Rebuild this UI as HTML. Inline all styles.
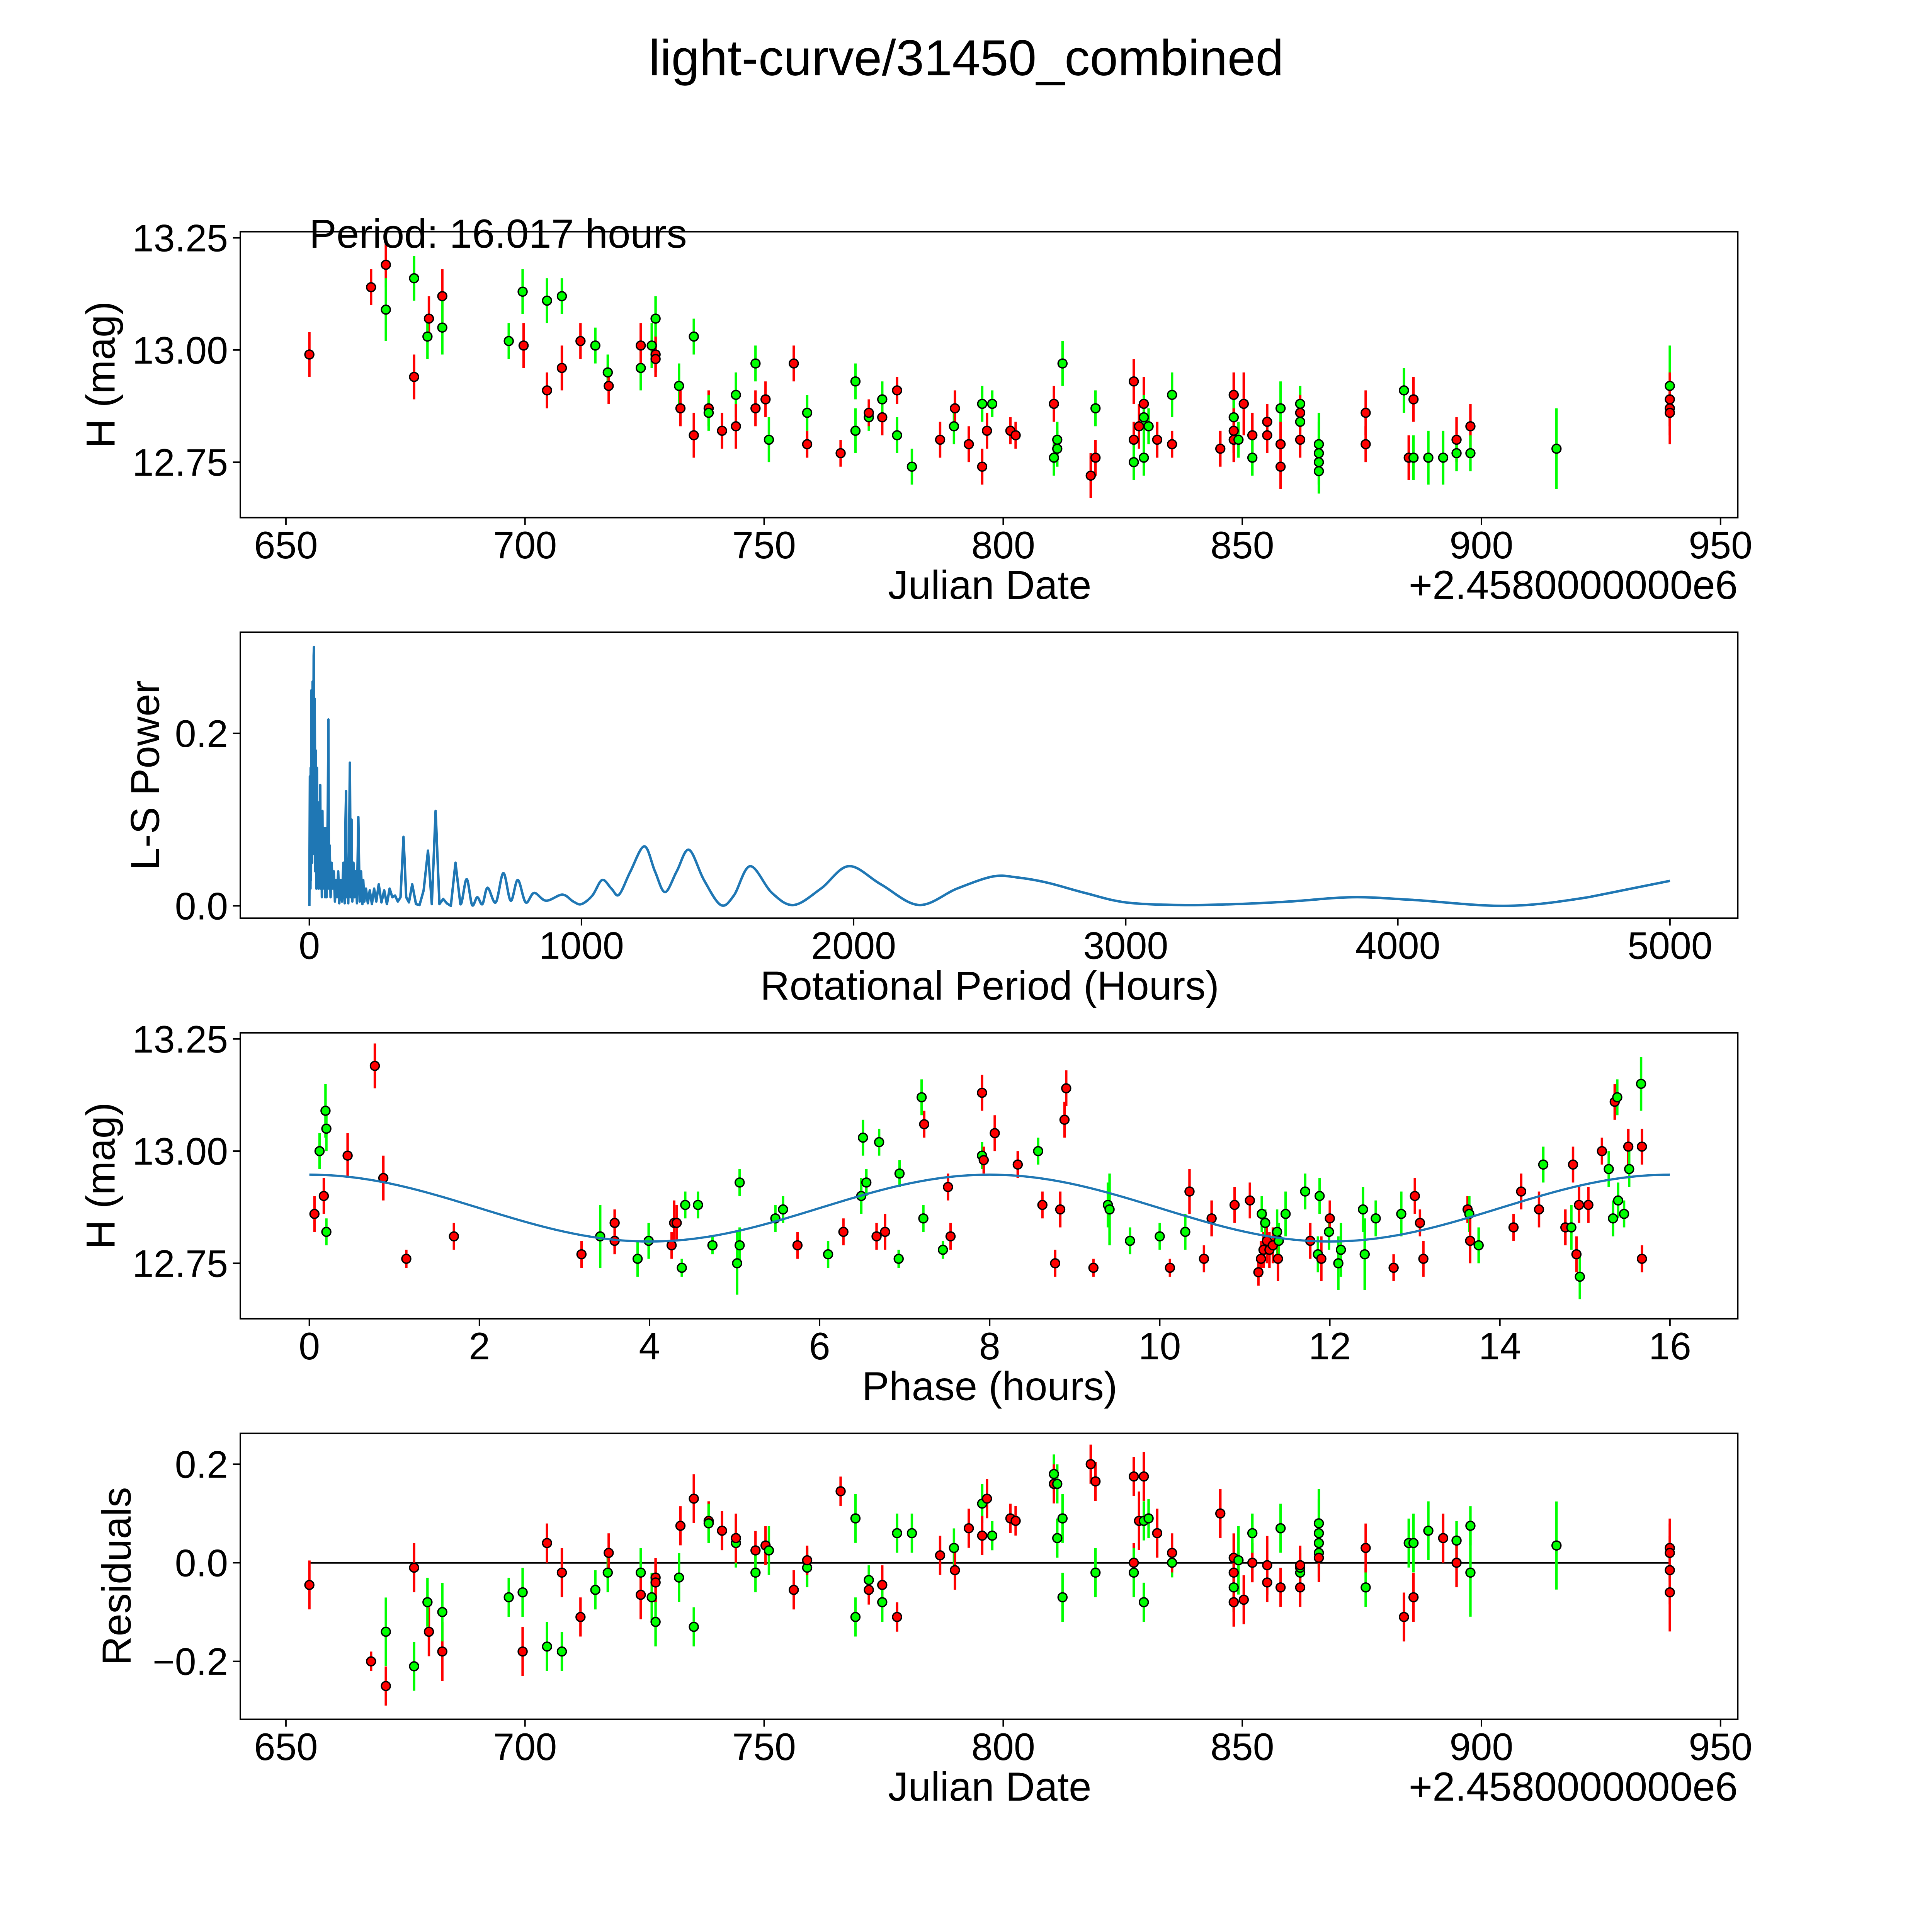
<!DOCTYPE html>
<html><head><meta charset="utf-8"><style>
html,body{margin:0;padding:0;background:#fff;overflow:hidden;width:5400px;height:5400px;}
svg{display:block;}
text{font-family:"Liberation Sans",sans-serif;fill:#000;}
</style></head><body>
<svg id="fig" xmlns="http://www.w3.org/2000/svg" width="5400" height="5400" viewBox="0 0 1693 1693">
<rect x="0" y="0" width="1693" height="1693" fill="#fff"/>
<text x="784" y="61" font-size="41" text-anchor="middle">light-curve/31450_combined</text>
<g id="p1"></g>
<g id="p2"></g>
<g id="p3"></g>
<g id="p4"></g>
</svg>
<script>
// ---- Panel 1: light curve ----
const jd1 = [654.9,667.8,670.9,670.9,676.8,676.8,679.9,679.6,682.7,682.7,696.6,699.5,699.7,704.6,704.6,707.7,707.7,711.6,714.7,717.3,717.5,724.2,724.2,726.5,727.3,727.3,727.3,732.2,732.5,735.3,735.3,738.4,738.4,741.2,744.1,744.1,748.2,748.2,750.3,751.0,756.2,759.0,759.0,766.0,769.1,769.1,771.9,771.9,774.7,774.7,777.8,777.8,780.9,786.8,789.7,789.9,792.8,795.6,795.6,796.6,797.7,801.5,802.6,810.6,810.6,811.3,811.3,812.4,818.3,819.3,819.3,827.3,827.3,827.3,828.4,829.4,829.4,829.4,830.4,832.2,835.3,835.3,845.4,848.2,848.2,848.2,848.2,849.2,850.3,852.1,852.1,855.2,855.2,858.0,858.0,858.0,862.1,862.1,862.1,862.1,866.0,866.0,866.0,866.0,875.8,875.8,883.8,884.8,885.8,885.8,888.9,892.0,894.8,894.8,897.7,897.7,915.7,939.4,939.4,939.4,939.4];
const mag1 = [12.99,13.14,13.19,13.09,12.94,13.16,13.07,13.03,13.12,13.05,13.02,13.13,13.01,12.91,13.11,12.96,13.12,13.02,13.01,12.95,12.92,12.96,13.01,13.01,13.07,12.99,12.98,12.92,12.87,13.03,12.81,12.87,12.86,12.82,12.90,12.83,12.87,12.97,12.89,12.80,12.97,12.86,12.79,12.77,12.93,12.82,12.85,12.86,12.85,12.89,12.91,12.81,12.74,12.80,12.83,12.87,12.79,12.88,12.74,12.82,12.88,12.82,12.81,12.76,12.88,12.80,12.78,12.97,12.72,12.76,12.87,12.93,12.80,12.75,12.83,12.88,12.85,12.76,12.83,12.80,12.90,12.79,12.78,12.90,12.85,12.82,12.80,12.80,12.88,12.81,12.76,12.84,12.81,12.87,12.79,12.74,12.88,12.86,12.84,12.80,12.79,12.77,12.75,12.73,12.86,12.79,12.91,12.76,12.89,12.76,12.76,12.76,12.80,12.77,12.83,12.77,12.78,12.92,12.89,12.87,12.86];
const col1 = "rrrgrgrgrgggrrgrgrggrgrggrrgrgrrgrgrrgrgrgrrgggrrgrggrgrrgrrgrrgrgggrrgrrgrrgggrgrrrgrrgrrgrrgrrgrgrggggrrgrrgggrgrgggrr".split("");
const err1 = [0.05,0.04,0.05,0.07,0.05,0.05,0.05,0.05,0.06,0.06,0.04,0.05,0.05,0.04,0.05,0.05,0.04,0.04,0.04,0.04,0.04,0.05,0.05,0.05,0.05,0.04,0.04,0.05,0.04,0.04,0.05,0.04,0.04,0.04,0.05,0.05,0.04,0.04,0.04,0.05,0.04,0.04,0.03,0.03,0.04,0.05,0.03,0.03,0.04,0.04,0.03,0.04,0.04,0.04,0.04,0.04,0.04,0.04,0.04,0.04,0.03,0.03,0.03,0.04,0.04,0.04,0.04,0.05,0.05,0.04,0.04,0.05,0.04,0.04,0.05,0.06,0.05,0.04,0.04,0.04,0.05,0.03,0.04,0.05,0.05,0.05,0.05,0.04,0.07,0.05,0.04,0.04,0.04,0.06,0.05,0.05,0.04,0.04,0.04,0.04,0.07,0.07,0.05,0.05,0.05,0.04,0.05,0.05,0.05,0.05,0.06,0.06,0.05,0.04,0.05,0.04,0.09,0.09,0.06,0.06,0.07];

// ---- Panel 2: periodogram ----
const lsPeriod = [0,2,4,5,6,8,10,12,14,16,17,18,20,22,24,26,28,30,32,34,36,38,40,42,44,46,48,50,52,55,58,60,63,66,68,70,72,75,78,82,86,90,94,98,102,106,110,115,120,125,130,133,135,137,140,143,146,149,152,155,158,162,166,170,175,180,185,190,195,198,202,208,215,222,230,238,246,255,265,275,285,295,305,315,325,335,346,356,366,378,392,405,420,436,450,464,478,492,505,520,537,555,578,598,617,636,655,685,713,740,766,795,826,870,930,970,1000,1040,1076,1110,1138,1180,1231,1270,1307,1350,1395,1450,1512,1560,1620,1700,1780,1880,1982,2100,2240,2380,2511,2600,2710,2850,3000,3200,3400,3600,3833,4050,4400,4700,5000];
const lsPower = [0,0.15,0.02,0.16,0.03,0.25,0.05,0.26,0.10,0.29,0.30,0.06,0.24,0.04,0.18,0.02,0.16,0.05,0.12,0.02,0.10,0.03,0.14,0.02,0.08,0.01,0.11,0.02,0.07,0.09,0.01,0.09,0.01,0.06,0.12,0.216,0.02,0.07,0.01,0.05,0.02,0.04,0.005,0.03,0.01,0.04,0.003,0.03,0.005,0.05,0.003,0.10,0.133,0.01,0.05,0.003,0.07,0.166,0.01,0.10,0.005,0.05,0.01,0.04,0.003,0.103,0.005,0.04,0.002,0.03,0.005,0.02,0.003,0.018,0.002,0.02,0.005,0.025,0.004,0.018,0.002,0.02,0.01,0.012,0.005,0.01,0.08,0.01,0.004,0.025,0.002,0.001,0.018,0.064,0.002,0.11,0.002,0.008,0.003,0.0,0.05,0.002,0.031,0.001,0.01,0.002,0.021,0.004,0.038,0.006,0.03,0.004,0.015,0.006,0.013,0.005,0.002,0.012,0.03,0.02,0.013,0.04,0.069,0.04,0.016,0.04,0.065,0.03,0.001,0.012,0.046,0.015,0.001,0.02,0.046,0.025,0.001,0.02,0.034,0.033,0.027,0.015,0.004,0.001,0.002,0.005,0.01,0.007,0.0,0.01,0.029];

// ---- Panel 3: phased curve ----
const ph3 = [0.06,0.12,0.17,0.19,0.20,0.20,0.45,0.77,0.87,1.14,1.70,3.20,3.42,3.59,3.59,3.86,3.99,4.26,4.29,4.32,4.38,4.42,4.57,4.74,5.06,5.06,5.03,5.48,5.57,5.74,6.10,6.28,6.49,6.51,6.55,6.67,6.70,6.77,6.94,6.93,7.22,7.20,7.23,7.45,7.51,7.54,7.91,7.91,7.93,8.06,8.33,8.57,8.62,8.77,8.83,8.88,8.90,9.22,9.39,9.41,9.65,10.0,10.12,10.30,10.35,10.52,10.61,10.88,11.06,11.16,11.19,11.20,11.22,11.24,11.26,11.29,11.33,11.38,11.39,11.40,11.48,11.71,11.77,11.86,11.88,11.90,11.99,12.0,12.1,12.13,12.39,12.41,12.54,12.75,12.84,13.0,13.06,13.1,13.62,13.64,13.65,13.75,14.16,14.25,14.46,14.51,14.77,14.84,14.86,14.90,14.94,14.93,15.04,15.20,15.28,15.33,15.35,15.38,15.39,15.46,15.51,15.52,15.67,15.66,15.67];
const mag3 = [12.86,13.00,12.90,13.09,13.05,12.82,12.99,13.19,12.94,12.76,12.81,12.77,12.81,12.84,12.80,12.76,12.80,12.79,12.84,12.84,12.74,12.88,12.88,12.79,12.93,12.79,12.75,12.85,12.87,12.79,12.77,12.82,12.90,13.03,12.93,12.81,13.02,12.82,12.95,12.76,12.85,13.12,13.06,12.78,12.92,12.81,13.13,12.99,12.98,13.04,12.97,13.00,12.88,12.75,12.87,13.07,13.14,12.74,12.88,12.87,12.80,12.81,12.74,12.82,12.91,12.76,12.85,12.88,12.89,12.73,12.76,12.86,12.78,12.84,12.80,12.78,12.79,12.82,12.76,12.80,12.86,12.91,12.80,12.77,12.90,12.76,12.82,12.85,12.75,12.78,12.87,12.77,12.85,12.74,12.86,12.90,12.84,12.76,12.87,12.86,12.80,12.79,12.83,12.91,12.87,12.97,12.83,12.83,12.97,12.77,12.72,12.88,12.88,13.00,12.96,12.85,13.11,13.12,12.89,12.86,13.01,12.96,13.01,13.15,12.76];
const col3 = "rgrgggrrrrrrgrrggrrrgggggggggrgrgggrgrggggrgrrrgrrrgrrrrrrggggrgrrrrrrrgrgrrrgrgggrggrgrgggggrgrrrrgrgrrrgrgrrgrrrggrgggrgrgrrgg".split("");
const err3 = [0.04,0.04,0.04,0.06,0.05,0.03,0.05,0.05,0.05,0.02,0.03,0.03,0.07,0.03,0.03,0.04,0.04,0.03,0.05,0.04,0.02,0.03,0.03,0.02,0.03,0.04,0.07,0.03,0.03,0.03,0.03,0.03,0.04,0.04,0.03,0.03,0.03,0.04,0.03,0.02,0.03,0.04,0.03,0.02,0.03,0.03,0.04,0.03,0.03,0.04,0.03,0.03,0.03,0.03,0.04,0.04,0.04,0.02,0.05,0.08,0.03,0.03,0.02,0.04,0.05,0.03,0.04,0.04,0.04,0.03,0.04,0.04,0.04,0.03,0.05,0.04,0.04,0.05,0.05,0.04,0.05,0.04,0.04,0.04,0.04,0.05,0.04,0.04,0.06,0.06,0.05,0.08,0.04,0.03,0.05,0.04,0.03,0.04,0.03,0.04,0.05,0.04,0.03,0.04,0.04,0.04,0.04,0.05,0.04,0.04,0.05,0.04,0.04,0.03,0.04,0.04,0.04,0.04,0.04,0.03,0.04,0.04,0.04,0.06,0.03];
const fitMean = [12.873];
const fitAmp = [0.0745];
const fitHalfPeriod = [8.0];

// ---- Panel 4: residuals ----
const jd4 = [654.9,667.8,670.9,670.9,676.8,676.8,679.9,679.6,682.7,682.7,696.6,699.5,699.5,704.6,704.6,707.7,707.7,711.6,714.7,717.3,717.5,724.2,724.2,726.5,727.3,727.3,727.3,732.2,732.5,735.3,735.3,738.4,738.4,741.2,744.1,744.1,748.2,748.2,750.3,751.0,756.2,759.0,759.0,766.0,769.1,769.1,771.9,771.9,774.7,774.7,777.8,777.8,780.9,786.8,789.7,789.9,792.8,795.6,795.6,796.6,797.7,801.5,802.6,810.6,810.6,811.3,811.3,812.4,812.4,818.3,819.3,819.3,827.3,827.3,827.3,828.4,829.4,829.4,829.4,830.4,832.2,835.3,835.3,845.4,848.2,848.2,848.2,848.2,849.2,850.3,852.1,852.1,855.2,855.2,858.0,858.0,858.0,862.1,862.1,862.1,862.1,866.0,866.0,866.0,866.0,866.0,875.8,875.8,883.8,884.8,885.8,885.8,888.9,892.0,894.8,894.8,897.7,897.7,915.7,939.4,939.4,939.4,939.4];
const res4 = [-0.045,-0.20,-0.25,-0.14,-0.01,-0.21,-0.14,-0.08,-0.18,-0.10,-0.07,-0.06,-0.18,0.04,-0.17,-0.02,-0.18,-0.11,-0.055,-0.02,0.02,-0.02,-0.065,-0.07,-0.12,-0.03,-0.04,-0.03,0.075,-0.13,0.13,0.085,0.08,0.065,0.04,0.05,0.025,-0.02,0.035,0.025,-0.055,-0.01,0.005,0.145,-0.11,0.09,-0.035,-0.055,-0.045,-0.08,-0.11,0.06,0.06,0.015,0.03,-0.015,0.07,0.12,0.055,0.13,0.055,0.09,0.085,0.18,0.16,0.05,0.16,0.09,-0.07,0.20,0.165,-0.02,0.175,0.0,-0.02,0.085,0.175,-0.08,0.085,0.09,0.06,0.0,0.02,0.10,0.01,-0.05,-0.08,-0.02,0.005,-0.075,0.0,0.06,-0.04,-0.005,0.07,0.07,-0.05,-0.05,-0.02,-0.01,-0.005,0.08,0.06,0.04,0.02,0.01,-0.05,0.03,-0.11,0.04,-0.07,0.04,0.065,0.05,0.045,0.0,0.075,-0.02,0.035,0.03,0.02,-0.015,-0.06];
const col4 = "rrrgrgrgrgggrrgrgrggrgrggrrgrgrrgrgrrgrgrgrrgggrrgrggrgrrgrrgrrgrggggrrgrrgrrgggrgrrrgrrgrrgrrggrrggrggggrgrrgrggrgrgggrr".split("");
const err4 = [0.05,0.02,0.04,0.07,0.05,0.05,0.05,0.05,0.06,0.06,0.04,0.05,0.05,0.04,0.05,0.05,0.04,0.04,0.04,0.04,0.04,0.05,0.05,0.05,0.05,0.04,0.04,0.05,0.04,0.04,0.05,0.04,0.04,0.04,0.05,0.05,0.04,0.04,0.04,0.05,0.04,0.04,0.03,0.03,0.04,0.05,0.03,0.03,0.04,0.04,0.03,0.04,0.04,0.04,0.04,0.04,0.04,0.04,0.04,0.04,0.03,0.03,0.03,0.04,0.04,0.04,0.04,0.05,0.05,0.04,0.04,0.05,0.04,0.04,0.05,0.06,0.05,0.04,0.04,0.04,0.05,0.03,0.04,0.05,0.05,0.05,0.05,0.04,0.07,0.05,0.04,0.04,0.04,0.06,0.05,0.05,0.04,0.04,0.04,0.04,0.04,0.07,0.07,0.05,0.05,0.05,0.04,0.05,0.05,0.05,0.05,0.06,0.06,0.05,0.04,0.05,0.04,0.09,0.09,0.06,0.06,0.07,0.08];

const jdTicks = [650,700,750,800,850,900,950];
const lsXTicks = [0,1000,2000,3000,4000,5000];
const lsYTicks = [0.0,0.2];
const phXTicks = [0,2,4,6,8,10,12,14,16];
const magTicks = [12.75,13.00,13.25];
const resTicks = [-0.2,0.0,0.2];

const NS = "http://www.w3.org/2000/svg";
function mk(parent, tag, attrs){ const e=document.createElementNS(NS,tag); for(const k in attrs) e.setAttribute(k,attrs[k]); parent.appendChild(e); return e; }
function lin(d0,d1,r0,r1){ return v=> r0+(v-d0)*(r1-r0)/(d1-d0); }
const L=195, R=1410, W=R-L, H=232;
const tops=[188,513,838,1163];
const xJD = lin(650,950,232,1396);
const xLS = lin(0,5000,251,1355);
const xPH = lin(0,16,251,1355);
const yMag = t=> lin(13.0,12.75,t+96,t+187);
const yLS = lin(0,0.2,735,595);
const yRes = lin(0,0.2,1268,1188);
const COL={r:"#ff0000",g:"#00ff00"};
const TICKFS=31, LABFS=33;

function frame(g,top){
  const r=mk(g,"rect",{x:L,y:top,width:W,height:H,fill:"none",stroke:"#000","stroke-width":1.2});
  
  
}
function xticks(g,top,ticks,xf,fmt){
  ticks.forEach(v=>{
    const x=xf(v);
    const l=mk(g,"line",{x1:x,x2:x,y1:top+H,y2:top+H+6,stroke:"#000","stroke-width":1.2});
    
    
    const t=mk(g,"text",{x:x,y:top+H+33,"font-size":TICKFS,"text-anchor":"middle"});
    
    
    t.textContent=fmt(v);
  });
}
function yticks(g,ticks,yf,fmt){
  ticks.forEach(v=>{
    const y=yf(v);
    const l=mk(g,"line",{x1:L-6,x2:L,y1:y,y2:y,stroke:"#000","stroke-width":1.2});
    
    
    const t=mk(g,"text",{x:L-10,y:y+11,"font-size":TICKFS,"text-anchor":"end"});
    
    
    t.textContent=fmt(v);
  });
}
function label(g,txt,x,y,rot,name,anchor){
  const t=mk(g,"text",{x:x,y:y,"font-size":LABFS,"text-anchor":anchor||"middle"});
  if(rot) t.setAttribute("transform",`rotate(-90 ${x} ${y})`);
  
  
  t.textContent=txt;
}
function points(g,xs,ys,errs,cols,xf,yf,errScale){
  xs.forEach((xv,i)=>{
    const x=xf(xv), y=yf(ys[i]), e=errs[i]*errScale;
    const c=COL[cols[i]]||"#ff0000";
    const l=mk(g,"line",{x1:x,x2:x,y1:y-e,y2:y+e,stroke:c,"stroke-width":2});
    
    
  });
  xs.forEach((xv,i)=>{
    const c=COL[cols[i]]||"#ff0000";
    const p=mk(g,"circle",{cx:xf(xv),cy:yf(ys[i]),r:3.6,fill:c,stroke:"#000","stroke-width":1.1});
    
    
  });
}
const fmt2=v=>v.toFixed(2), fmt1=v=>v.toFixed(1), fmt0=v=>String(v);
const fmtRes=v=>(v<0?"\u2212":"")+Math.abs(v).toFixed(1);

// Panel 1
(function(){
  const g=document.getElementById("p1"), top=tops[0], yf=yMag(top);
  frame(g,top);
  points(g,jd1,mag1,err1,col1,xJD,yf,364);
  xticks(g,top,jdTicks,xJD,fmt0); yticks(g,magTicks,yf,fmt2);
  label(g,"Julian Date",803,top+H+66,false,"x-axis-title");
  label(g,"+2.4580000000e6",1410,top+H+66,false,"x-axis-offset","end");
  label(g,"H (mag)",93,top+H/2,true,"y-axis-title");
  const t=mk(g,"text",{x:251,y:201,"font-size":33});
  
  
  t.textContent="Period: 16.017 hours";
})();
// Panel 2
(function(){
  const g=document.getElementById("p2"), top=tops[1];
  frame(g,top);
  const pts=lsPeriod.map((p,i)=>[xLS(p),yLS(lsPower[i])]);
  let d="M"+pts[0][0].toFixed(2)+","+pts[0][1].toFixed(2);
  for(let i=1;i<pts.length;i++){
    if(lsPeriod[i]<560 || i>=pts.length-1){ d+="L"+pts[i][0].toFixed(2)+","+pts[i][1].toFixed(2); continue; }
    const p0=pts[i-2]||pts[i-1], p1=pts[i-1], p2=pts[i], p3=pts[i+1];
    const c1=[p1[0]+(p2[0]-p0[0])/6, p1[1]+(p2[1]-p0[1])/6];
    const c2=[p2[0]-(p3[0]-p1[0])/6, p2[1]-(p3[1]-p1[1])/6];
    d+="C"+c1[0].toFixed(2)+","+c1[1].toFixed(2)+" "+c2[0].toFixed(2)+","+c2[1].toFixed(2)+" "+p2[0].toFixed(2)+","+p2[1].toFixed(2);
  }
  const p=mk(g,"path",{d:d,fill:"none",stroke:"#1f77b4","stroke-width":2,"stroke-linejoin":"round"});
  
  
  xticks(g,top,lsXTicks,xLS,fmt0); yticks(g,lsYTicks,yLS,fmt1);
  label(g,"Rotational Period (Hours)",803,top+H+66,false,"x-axis-title");
  label(g,"L-S Power",129,top+H/2,true,"y-axis-title");
})();
// Panel 3
(function(){
  const g=document.getElementById("p3"), top=tops[2], yf=yMag(top);
  frame(g,top);
  points(g,ph3,mag3,err3,col3,xPH,yf,364);
  let d=""; for(let i=0;i<=200;i++){ const ph=16*i/200; const m=fitMean[0]+fitAmp[0]*Math.cos(2*Math.PI*ph/fitHalfPeriod[0]); d+=(i?"L":"M")+xPH(ph).toFixed(2)+","+yf(m).toFixed(2); }
  const p=mk(g,"path",{d:d,fill:"none",stroke:"#1f77b4","stroke-width":1.8});
  
  
  xticks(g,top,phXTicks,xPH,fmt0); yticks(g,magTicks,yf,fmt2);
  label(g,"Phase (hours)",803,top+H+66,false,"x-axis-title");
  label(g,"H (mag)",93,top+H/2,true,"y-axis-title");
})();
// Panel 4
(function(){
  const g=document.getElementById("p4"), top=tops[3];
  frame(g,top);
  const z=mk(g,"line",{x1:xJD(654.9),x2:xJD(939.4),y1:yRes(0),y2:yRes(0),stroke:"#000","stroke-width":1.5});
  
  
  points(g,jd4,res4,err4,col4,xJD,yRes,397);
  xticks(g,top,jdTicks,xJD,fmt0); yticks(g,resTicks,yRes,fmtRes);
  label(g,"Julian Date",803,top+H+66,false,"x-axis-title");
  label(g,"+2.4580000000e6",1410,top+H+66,false,"x-axis-offset","end");
  label(g,"Residuals",106,top+H/2,true,"y-axis-title");
})();
</script>
</body></html>
